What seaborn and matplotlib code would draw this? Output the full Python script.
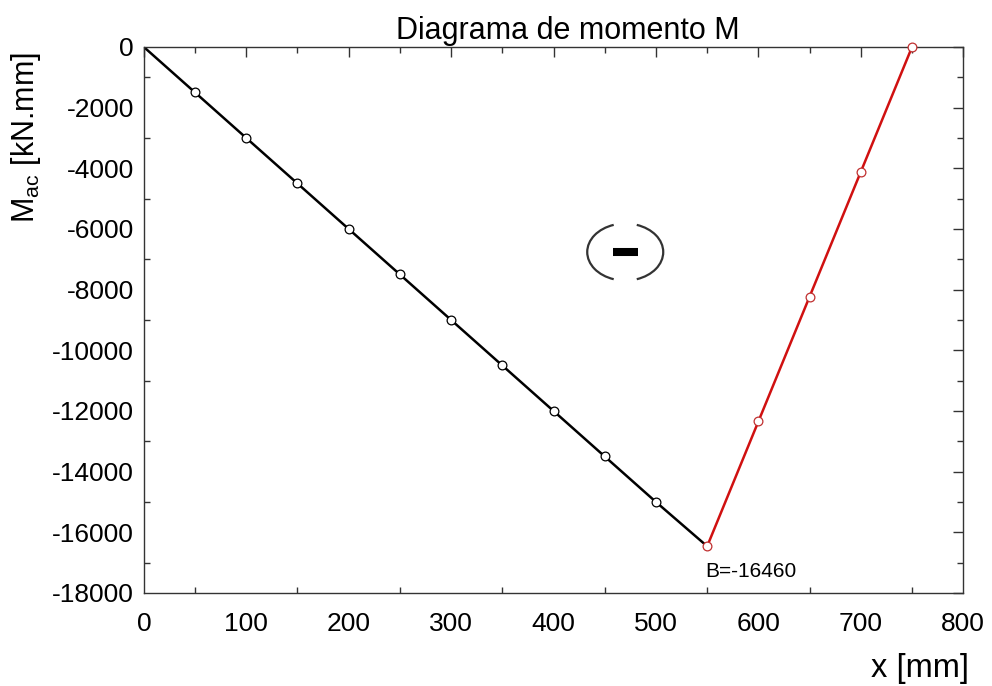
import matplotlib
matplotlib.use("Agg")
import matplotlib.pyplot as plt
import matplotlib.transforms as mtransforms
from matplotlib.ticker import MultipleLocator
from matplotlib.patches import Arc
import seaborn as sns
import pandas as pd

x_left = [0, 50, 100, 150, 200, 250, 300, 350, 400, 450, 500, 550]
m_left = [0, -1500, -3000, -4500, -6000, -7500, -9000, -10500, -12000, -13500, -15000, -16460]
x_right = [550, 600, 650, 700, 750]
m_right = [-16460, -12345, -8230, -4115, 0]
title = "Diagrama de momento M"
b_label = "B=-16460"

sns.set_theme(style="white")
plt.rcParams['font.family'] = ['Liberation Sans', 'DejaVu Sans']
plt.rcParams['axes.unicode_minus'] = False

fig = plt.figure(figsize=(9.92, 6.86), dpi=100)
ax = fig.add_axes([0.145, 0.1356, 0.826, 0.7959])

df_l = pd.DataFrame({"x": x_left, "M": m_left})
df_r = pd.DataFrame({"x": x_right, "M": m_right})
sns.lineplot(data=df_l, x="x", y="M", ax=ax, color="black", linewidth=1.8)
sns.lineplot(data=df_r, x="x", y="M", ax=ax, color="#d01010", linewidth=1.8)
ax.plot(df_l["x"][1:-1], df_l["M"][1:-1], linestyle="none", marker="o", markersize=6.3,
        markerfacecolor="white", markeredgecolor="black", markeredgewidth=0.9, zorder=4)
ax.plot(df_r["x"], df_r["M"], linestyle="none", marker="o", markersize=6.3,
        markerfacecolor="white", markeredgecolor="#c03030", markeredgewidth=0.9, zorder=4, clip_on=False)

ax.set_xlim(0, 800)
ax.set_ylim(-18000, 0)
ax.xaxis.set_major_locator(MultipleLocator(100))
ax.xaxis.set_minor_locator(MultipleLocator(50))
ax.yaxis.set_major_locator(MultipleLocator(2000))
ax.yaxis.set_minor_locator(MultipleLocator(1000))
ax.tick_params(which="both", direction="in", top=True, right=True, labelsize=19, colors="black")
ax.tick_params(axis="x", which="major", pad=14)
ax.tick_params(axis="y", which="major", pad=7)
ax.tick_params(which="major", length=7, width=1, color="#333333")
ax.tick_params(which="minor", length=4, width=1, bottom=True, left=True, color="#333333")
for s in ax.spines.values():
    s.set_color("#333333")
    s.set_linewidth(1)
    s.set_visible(True)

ax.set_title(title, fontsize=22, pad=5.5, color="black", x=0.518)
ax.set_xlabel("x [mm]", fontsize=23.5, color="black")
ax.xaxis.set_label_coords(1.007, -0.11)
ax.xaxis.label.set_horizontalalignment("right")
ax.set_ylabel("M$_{\\mathregular{ac}}$ [kN.mm]", fontsize=22, color="black")
ax.yaxis.set_label_coords(-0.123, 0.835)

# "(-)" sign annotation, drawn in inches around a data anchor
cx, cy = 470, -6760
anchor = fig.dpi_scale_trans + mtransforms.ScaledTranslation(cx, cy, ax.transData)
ax.add_patch(Arc((0, 0), 0.76, 0.57, theta1=113, theta2=247, color="#333333",
                 linewidth=1.6, transform=anchor))
ax.add_patch(Arc((0, 0), 0.76, 0.57, theta1=-67, theta2=67, color="#333333",
                 linewidth=1.6, transform=anchor))
ax.plot([cx - 12, cx + 12], [cy, cy], color="black", linewidth=5.8, solid_capstyle="butt")

ax.text(548, -17300, b_label, fontsize=15, ha="left", va="center", color="black")

fig.savefig("out.png", dpi=100, facecolor="white")
